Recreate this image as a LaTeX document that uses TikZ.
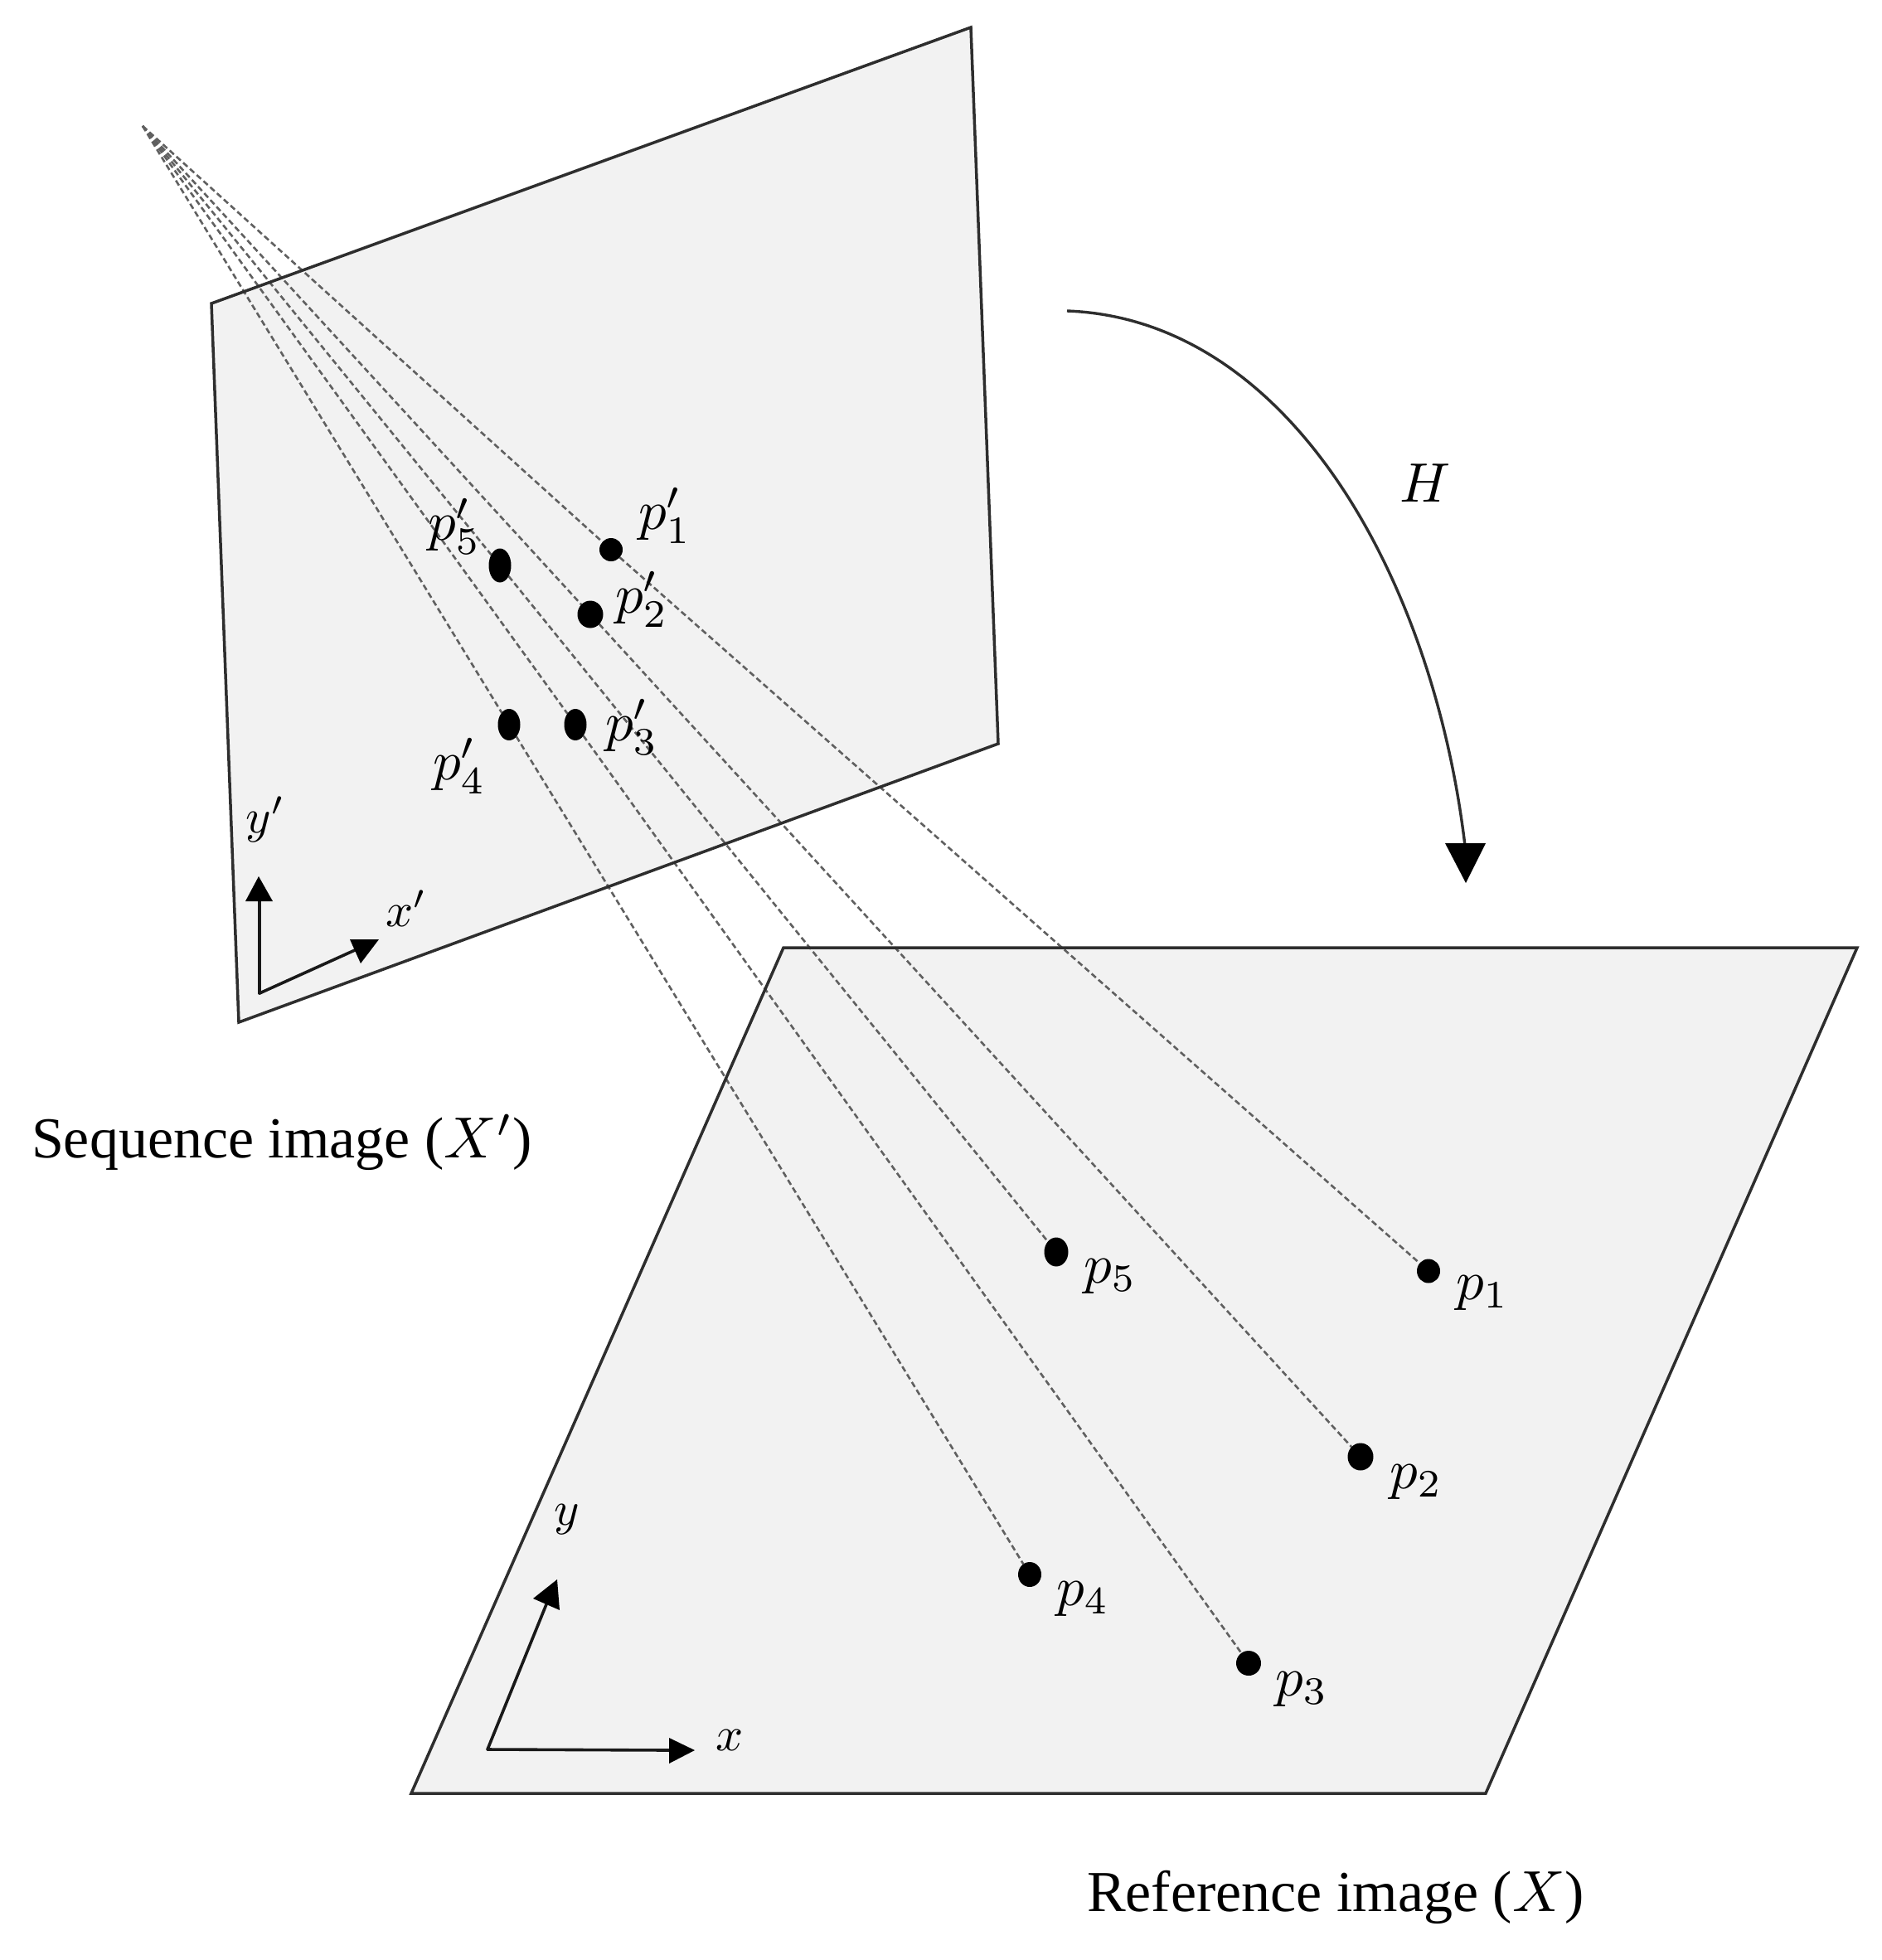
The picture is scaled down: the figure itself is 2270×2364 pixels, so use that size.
\documentclass[tikz,border=0pt]{standalone}
\usepackage{fontspec}
\usepackage{graphicx}
\setmainfont{Liberation Serif}
\usetikzlibrary{shapes.geometric,backgrounds}
\definecolor{planefill}{HTML}{F2F2F2}
\definecolor{edgecol}{HTML}{2E2E2E}
\definecolor{raycol}{HTML}{606060}
\newcommand{\mlab}[1]{\scalebox{6.7}{$#1$}}
\newcommand{\slab}[1]{\scalebox{5.8}{$#1$}}
\newcommand{\clab}[1]{\scalebox{7.0}{#1}}
\tikzset{
  x=1pt,y=-1pt,
  every node/.style={inner sep=0pt,outer sep=0pt},
  ray/.style={draw=raycol,line width=2.6pt,dash pattern=on 7pt off 4pt},
  planeedge/.style={draw=edgecol,line width=3.5pt,line join=miter},
  axisline/.style={draw=black!90,line width=3.6pt,line cap=round},
  headfill/.style={fill=black,draw=none},
  maparrow/.style={draw=edgecol,line width=3.4pt}
}
\begin{document}
\begin{tikzpicture}
\useasboundingbox (0,0) rectangle (2270,2364);
% named corners
\coordinate (apex) at (172,152);
\coordinate (a1) at (255,366);
\coordinate (a2) at (1171,33);
\coordinate (a3) at (1204,897);
\coordinate (a4) at (288,1233);
\coordinate (b1) at (945,1143);
\coordinate (b2) at (2240,1143);
\coordinate (b3) at (1792,2163);
\coordinate (b4) at (496,2163);
% axes of the sequence image
\coordinate (o1) at (313,1198);
\coordinate (ty1) at (312,1057);
\coordinate (ty1l) at (296,1087);
\coordinate (ty1r) at (329,1087);
\coordinate (ty1m) at (313,1085);
\coordinate (tx1a) at (422,1133);
\coordinate (tx1b) at (457,1133);
\coordinate (tx1c) at (435,1162);
\coordinate (tx1m) at (428,1146);
% axes of the reference image
\coordinate (o2) at (588,2110);
\coordinate (ty2) at (672,1905);
\coordinate (ty2l) at (643,1928);
\coordinate (ty2r) at (675,1942);
\coordinate (ty2m) at (659,1935);
\coordinate (tx2) at (838,2111);
\coordinate (tx2l) at (807,2096);
\coordinate (tx2r) at (807,2127);
\coordinate (tx2m) at (809,2111);
% mapping arrow
\coordinate (hs) at (1287,375);
\coordinate (he) at (1767,1020);
\coordinate (hl) at (1743,1017);
\coordinate (hr) at (1792,1017);
\coordinate (ht) at (1768,1065);
% dots
\node[ellipse,fill=black,minimum width=28pt,minimum height=28pt] (q1) at (737,663) {};
\node[ellipse,fill=black,minimum width=31pt,minimum height=33pt] (q2) at (712,741) {};
\node[ellipse,fill=black,minimum width=27pt,minimum height=41pt] (q5) at (603,682) {};
\node[ellipse,fill=black,minimum width=27pt,minimum height=38pt] (q3) at (694,874) {};
\node[ellipse,fill=black,minimum width=27pt,minimum height=38pt] (q4) at (614,874) {};
\node[ellipse,fill=black,minimum width=28pt,minimum height=29pt] (p1) at (1723,1533) {};
\node[ellipse,fill=black,minimum width=31pt,minimum height=33pt] (p2) at (1641,1757) {};
\node[ellipse,fill=black,minimum width=30pt,minimum height=30pt] (p3) at (1506,2006) {};
\node[ellipse,fill=black,minimum width=28pt,minimum height=30pt] (p4) at (1242,1899) {};
\node[ellipse,fill=black,minimum width=29pt,minimum height=35pt] (p5) at (1274,1510) {};
% labels
\node (lq1) at (802,622) {\mlab{p_1'}};
\node (lq2) at (774,723) {\mlab{p_2'}};
\node (lq3) at (762,877) {\mlab{p_3'}};
\node (lq4) at (554,924) {\mlab{p_4'}};
\node (lq5) at (548,635) {\mlab{p_5'}};
\node (lp1) at (1788,1560) {\mlab{p_1}};
\node (lp2) at (1708,1788) {\mlab{p_2}};
\node (lp3) at (1570,2038) {\mlab{p_3}};
\node (lp4) at (1306,1929) {\mlab{p_4}};
\node (lp5) at (1339,1540) {\mlab{p_5}};
\node (lh) at (1719,583) {\mlab{H}};
\node (lyp) at (320,988) {\slab{y'}};
\node (lxp) at (490,1096) {\slab{x'}};
\node (ly) at (684,1833) {\slab{y}};
\node (lx) at (880,2099) {\slab{x}};
\node (seq) at (340,1378) {\clab{Sequence image ($X'$)}};
\node (refi) at (1611,2288) {\clab{Reference image ($X$)}};
\begin{scope}[on background layer]
  \fill[planefill] (a1) -- (a2) -- (a3) -- (a4) -- cycle;
  \fill[planefill] (b1) -- (b2) -- (b3) -- (b4) -- cycle;
  \draw[ray] (apex) -- (q1);
  \draw[ray] (q1) -- (p1);
  \draw[ray] (apex) -- (q2);
  \draw[ray] (q2) -- (p2);
  \draw[ray] (apex) -- (q3);
  \draw[ray] (q3) -- (p3);
  \draw[ray] (apex) -- (q4);
  \draw[ray] (q4) -- (p4);
  \draw[ray] (apex) -- (q5);
  \draw[ray] (q5) -- (p5);
  \draw[planeedge] (a1) -- (a2) -- (a3) -- (a4) -- cycle;
  \draw[planeedge] (b1) -- (b2) -- (b3) -- (b4) -- cycle;
\end{scope}
% axes
\draw[axisline] (o1) -- (ty1m);
\draw[axisline] (o1) -- (tx1m);
\fill[headfill] (ty1) -- (ty1l) -- (ty1r) -- cycle;
\fill[headfill] (tx1a) -- (tx1b) -- (tx1c) -- cycle;
\draw[axisline] (o2) -- (ty2m);
\draw[axisline] (o2) -- (tx2m);
\fill[headfill] (ty2) -- (ty2l) -- (ty2r) -- cycle;
\fill[headfill] (tx2) -- (tx2l) -- (tx2r) -- cycle;
% mapping arrow H
\draw[maparrow] (hs) .. controls (1557,385) and (1729,700) .. (he);
\fill[headfill] (hl) -- (hr) -- (ht) -- cycle;
\end{tikzpicture}
\end{document}
